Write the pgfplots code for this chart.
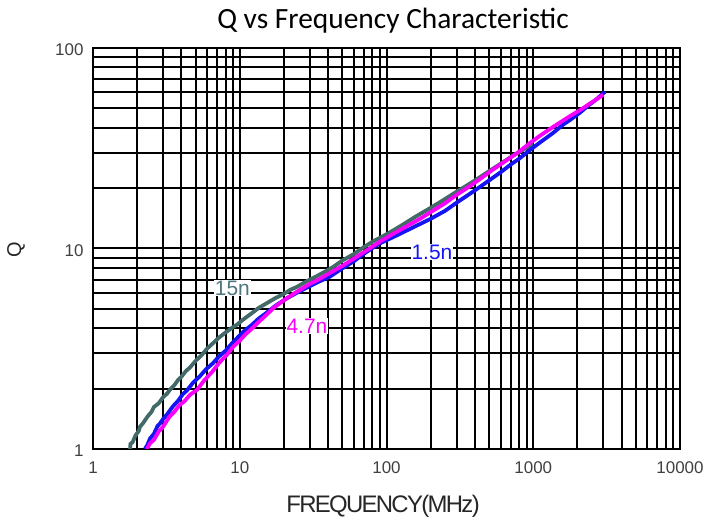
\documentclass[border=0pt]{standalone}
\usepackage{pgfplots}
\pgfplotsset{compat=1.18}
\usepackage{fontspec}
\setmainfont{Liberation Sans}
\newfontfamily\titlefont{Carlito}
\newfontfamily\condfont[LetterSpace=-7]{Liberation Sans}
\definecolor{c15}{RGB}{66,106,104}
\definecolor{c15t}{RGB}{78,118,128}
\definecolor{cblue}{RGB}{20,20,245}
\definecolor{cmag}{RGB}{250,0,250}
\begin{document}
\begin{tikzpicture}[x=1bp,y=1bp]
\path[use as bounding box] (0,0) rectangle (708,520);
\begin{axis}[
  at={(93bp,71bp)}, anchor=south west,
  scale only axis, width=587bp, height=401bp,
  xmode=log, ymode=log,
  xmin=1, xmax=10000, ymin=1, ymax=100,
  xtick={1,10,100,1000,10000}, xticklabels={1,10,100,1000,10000},
  ytick={1,10,100}, yticklabels={1,10,100},
  grid=both,
  major grid style={black, line width=2bp},
  minor grid style={black, line width=2bp},
  major tick length=0pt, minor tick length=0pt,
  axis line style={black, line width=2.2bp},
  tick label style={font=\fontsize{17}{19}\selectfont, text=black!75},
  xticklabel style={yshift=-9bp},
  yticklabel style={xshift=-6bp, yshift=-2bp},
  clip=true,
]
% 15n
\addplot[c15, line width=3.8bp] coordinates {
(1.79,1.0) (1.80,1.06) (1.86,1.08) (1.95,1.17) (2.05,1.23) (2.09,1.29) (2.2,1.35) (2.35,1.45) (2.5,1.53) (2.6,1.62) (2.8,1.69) (3.0,1.81) (3.2,1.89) (3.35,1.98) (3.6,2.09) (3.8,2.21) (4.0,2.29) (4.3,2.45) (4.58,2.55) (5.0,2.75) (5.5,2.94) (6.0,3.17) (6.57,3.37) (7.2,3.59) (8.0,3.81) (8.8,4.01) (9.58,4.17) (10.5,4.41) (12,4.74) (13.5,5.06) (15.3,5.34) (17.5,5.66) (20,5.94) (22,6.21) (24.6,6.44) (28,6.81) (33,7.24) (38,7.66) (43.2,8.08) (50,8.71) (60,9.39) (68,10.01) (73.6,10.39) (82,10.91) (90,11.29) (105,12.01) (130,13.19) (160,14.51) (198,15.89) (240,17.31) (300,19.19) (360,20.81) (434,22.69) (500,24.31) (600,26.49) (700,28.51) (800,30.19) (900,31.81) (1000,33.0)
};
% 1.5n
\addplot[cblue, line width=3.8bp] coordinates {
(2.26,1.0) (2.35,1.05) (2.45,1.13) (2.6,1.19) (2.75,1.30) (2.86,1.34) (3.0,1.41) (3.2,1.49) (3.5,1.63) (3.8,1.74) (4.1,1.88) (4.37,1.96) (4.8,2.14) (5.3,2.29) (5.9,2.50) (6.57,2.68) (7.2,2.89) (8.0,3.09) (8.8,3.35) (9.58,3.57) (10.5,3.83) (12,4.14) (13.5,4.48) (15.3,4.79) (17.5,5.18) (21,5.65) (25,6.06) (30,6.49) (35,6.86) (41.2,7.24) (50,7.96) (60,8.64) (70,9.41) (80.9,10.09) (90,10.61) (100,10.99) (120,11.71) (150,12.69) (198,14.01) (250,15.39) (300,16.91) (360,18.49) (434,20.31) (520,22.29) (600,24.01) (700,26.19) (800,28.01) (950,30.99) (1100,33.61) (1364,37.69) (1600,41.51) (1800,43.99) (2083,47.61) (2400,51.99) (2700,55.51) (3083,60.5)
};
% 4.7n
\addplot[cmag, line width=3.8bp] coordinates {
(2.33,1.0) (2.45,1.07) (2.6,1.11) (2.8,1.22) (3.0,1.29) (3.3,1.44) (3.6,1.54) (3.9,1.66) (4.2,1.73) (4.6,1.87) (5.11,1.97) (5.7,2.19) (6.5,2.43) (7.3,2.71) (8.2,2.96) (9.0,3.23) (10,3.47) (11,3.75) (12,3.96) (13.5,4.31) (15.3,4.69) (17,5.06) (18.8,5.34) (21,5.66) (25,6.14) (30,6.66) (35,7.04) (40,7.46) (50,8.19) (60,8.91) (75,9.89) (90,10.81) (110,11.79) (140,13.01) (170,14.09) (198,15.11) (250,16.79) (300,18.51) (360,20.19) (434,22.21) (520,24.49) (600,26.31) (700,28.39) (800,30.41) (950,33.59) (1100,36.31) (1364,40.39) (1600,43.51) (1800,45.99) (2083,49.01) (2400,52.49) (2700,55.51) (3000,58.5)
};
\node[fill=white, inner sep=1bp, text=c15t, font=\fontsize{21}{23}\selectfont] at (axis cs:8.9,6.35) {15n};
\node[fill=white, inner sep=1bp, text=cmag, font=\fontsize{21}{23}\selectfont] at (axis cs:28.7,4.1) {4.7n};
\node[fill=white, inner sep=1bp, text=cblue, font=\fontsize{21}{23}\selectfont] at (axis cs:204,9.6) {1.5n};
\end{axis}
\node[font=\titlefont\fontsize{29.5}{33}\selectfont] at (393,499) {Q vs Frequency Characteristic};
\node[font=\condfont\fontsize{24}{27}\selectfont, text=black!85] at (383,14) {FREQUENCY(MHz)};
\node[rotate=90, font=\fontsize{20}{22}\selectfont, text=black!85] at (16,270) {Q};
\end{tikzpicture}
\end{document}
